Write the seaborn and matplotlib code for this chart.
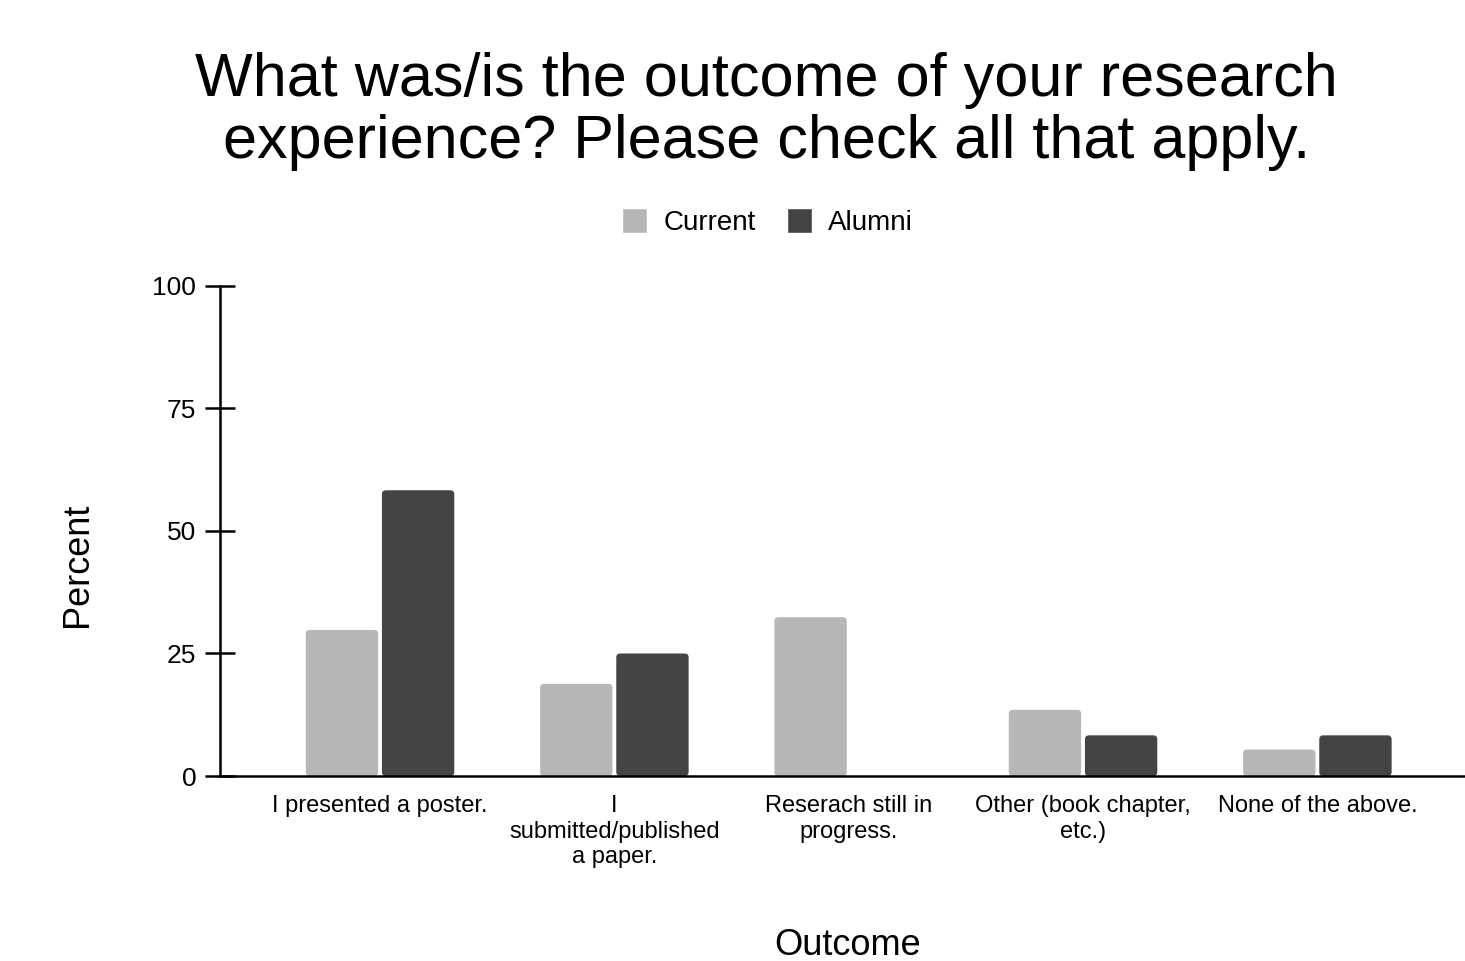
import pandas as pd
import matplotlib.pyplot as plt
import seaborn as sns
from matplotlib.patches import FancyBboxPatch

# chart data
outcomes = ["I presented a poster.", "I submitted/published a paper.", "Reserach still in progress.",
            "Other (book chapter, etc.)", "None of the above."]
tick_labels = ["I presented a poster.", "I\nsubmitted/published\na paper.", "Reserach still in\nprogress.",
               "Other (book chapter,\netc.)", "None of the above."]
current_pct = [29.8, 18.8, 32.4, 13.5, 5.4]
alumni_pct = [58.3, 25.0, 0.0, 8.3, 8.3]

df = pd.DataFrame({
    "Outcome": outcomes * 2,
    "Group": ["Current"] * len(outcomes) + ["Alumni"] * len(outcomes),
    "Percent": current_pct + alumni_pct,
})

sns.set_style("white")
plt.rcParams["font.family"] = ["Liberation Sans", "DejaVu Sans"]
plt.rcParams["text.color"] = "black"
plt.rcParams["axes.labelcolor"] = "black"
plt.rcParams["xtick.color"] = "black"
plt.rcParams["ytick.color"] = "black"

fig = plt.figure(figsize=(14.65, 9.61), dpi=100)
ax = fig.add_axes([0.150, 0.1925, 0.85, 0.51])

sns.barplot(data=df, x="Outcome", y="Percent", hue="Group", order=outcomes,
            hue_order=["Current", "Alumni"], palette={"Current": "#b7b7b7", "Alumni": "#444444"},
            width=0.65, gap=0.05, saturation=1, ax=ax)

ax.set_ylim(0, 100)
ax.set_xlim(-0.684, 4.63)

# legend first, so it keeps its handles after the bars get swapped
leg = ax.legend(loc="center", bbox_to_anchor=(0.44, 1.13), ncol=2, frameon=False, fontsize=20,
                handlelength=0.9, handleheight=1.0, handletextpad=0.6, columnspacing=1.1)

# swap plain bars for slightly rounded ones
aspect = (1245 / 5.314) / (490 / 100)
for p in list(ax.patches):
    h = p.get_height()
    if h > 0:
        rb = FancyBboxPatch((p.get_x(), 0), p.get_width(), h,
                            boxstyle="round,pad=0,rounding_size=0.017", mutation_aspect=aspect,
                            facecolor=p.get_facecolor(), edgecolor="none", zorder=p.get_zorder())
        ax.add_patch(rb)
    p.set_visible(False)

ax.set_yticks([0, 25, 50, 75, 100])
ax.set_xticks(range(len(outcomes)))
ax.set_xticklabels(tick_labels, fontsize=17, linespacing=1.2)
ax.tick_params(axis="y", labelsize=19, left=True, direction="inout", length=22, width=1.8, pad=6)
ax.tick_params(axis="x", length=0, pad=14)
for s in ["top", "right"]:
    ax.spines[s].set_visible(False)
for s in ["left", "bottom"]:
    ax.spines[s].set_color("black")
    ax.spines[s].set_linewidth(1.8)

ax.set_xlabel("Outcome", fontsize=26, va="top")
ax.xaxis.set_label_coords(0.504, -0.31)
ax.set_ylabel("Percent", fontsize=26)
ax.yaxis.set_label_coords(-0.100, 0.43)

fig.suptitle("What was/is the outcome of your research\nexperience? Please check all that apply.",
             x=0.523, y=0.946, fontsize=44, linespacing=1.12, va="top")

fig.savefig("out.png", dpi=100, facecolor="white")
